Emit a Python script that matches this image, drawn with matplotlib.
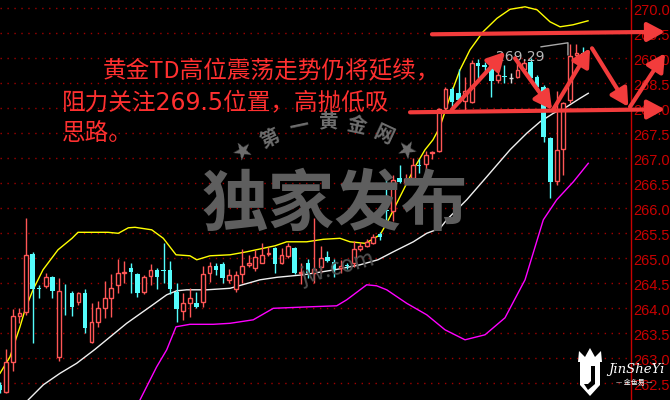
import numpy as np
import matplotlib
matplotlib.use("Agg")
import matplotlib.pyplot as plt
from matplotlib import transforms
from matplotlib.patches import Polygon

plt.rcParams['font.family'] = ['Noto Sans CJK SC', 'DejaVu Sans']

# candle data, index 0..89
opens = [262.47, 262.33, 262.93, 263.85, 263.92, 265.08, 264.40, 264.45, 264.62, 263.02,
         264.33, 264.30, 264.12, 264.30, 263.32, 263.72, 264.01, 264.21, 264.47, 264.71,
         264.80, 264.69, 264.32, 264.65, 264.77, 264.76, 264.77, 264.33, 263.95, 264.10,
         264.11, 264.12, 264.70, 264.85, 264.88, 264.57, 264.38, 264.68, 264.87, 264.81,
         264.91, 265.08, 265.20, 264.90, 265.05, 265.20, 264.70, 264.91, 264.71, 264.83,
         265.02, 264.93, 264.81, 264.86, 264.90, 265.18, 265.25, 265.31, 265.49, 265.96,
         265.95, 266.60, 266.52, 266.60, 266.86, 266.88, 267.11, 267.15, 268.00, 268.38,
         268.30, 268.15, 268.13, 268.90, 268.87, 268.80, 268.57, 268.65, 268.60, 268.63,
         268.78, 268.93, 268.63, 268.43, 267.40, 266.55, 267.18, 268.17, 269.07, 269.10]
highs = [262.52, 263.18, 263.98, 264.00, 265.81, 265.12, 264.47, 264.70, 264.64, 264.60,
         264.48, 264.35, 264.32, 264.38, 264.10, 264.15, 264.55, 264.68, 264.98, 264.95,
         264.91, 264.71, 264.67, 264.89, 264.81, 265.30, 264.95, 264.50, 264.31, 264.40,
         264.33, 264.85, 264.92, 264.90, 264.92, 264.78, 264.75, 265.18, 265.07, 265.17,
         265.30, 265.23, 265.22, 265.20, 265.31, 265.22, 264.90, 264.98, 265.80, 265.25,
         265.15, 264.98, 264.96, 264.90, 265.35, 265.33, 265.38, 265.49, 265.53, 266.70,
         266.67, 266.87, 266.68, 267.00, 266.98, 267.15, 267.15, 268.00, 268.43, 268.43,
         268.78, 268.63, 268.97, 268.98, 268.93, 268.91, 268.85, 268.87, 268.71, 268.90,
         268.98, 269.00, 268.67, 268.46, 267.42, 268.35, 268.13, 269.29, 269.28, 269.23]
lows = [262.30, 262.30, 262.75, 263.70, 263.87, 263.31, 264.21, 264.40, 264.21, 262.95,
        263.87, 263.85, 264.07, 263.51, 263.30, 263.63, 263.81, 263.82, 264.31, 264.50,
        264.31, 264.23, 264.29, 264.47, 264.38, 264.51, 264.29, 263.72, 263.77, 263.82,
        264.00, 264.02, 264.53, 264.67, 264.51, 264.50, 264.33, 264.50, 264.83, 264.75,
        264.90, 265.05, 264.71, 264.88, 265.00, 264.68, 264.48, 264.61, 264.51, 264.71,
        264.93, 264.63, 264.71, 264.78, 264.83, 265.15, 265.22, 265.28, 265.37, 265.73,
        265.75, 266.50, 266.48, 266.49, 266.71, 266.67, 266.98, 267.12, 267.95, 268.00,
        268.10, 267.95, 268.11, 268.60, 268.73, 268.23, 268.50, 268.51, 268.50, 268.60,
        268.70, 268.58, 268.35, 267.33, 266.21, 266.47, 266.67, 268.10, 268.90, 269.03]
closes = [262.36, 262.92, 263.85, 263.90, 265.07, 264.38, 264.38, 264.62, 264.35, 264.35,
          264.32, 264.02, 264.30, 263.61, 263.72, 264.00, 264.20, 264.40, 264.70, 264.73,
          264.73, 264.31, 264.62, 264.77, 264.63, 264.74, 264.38, 263.98, 264.10, 264.20,
          264.03, 264.68, 264.85, 264.77, 264.60, 264.67, 264.67, 264.85, 264.91, 265.03,
          265.07, 265.11, 264.88, 265.07, 265.25, 264.70, 264.73, 264.71, 264.78, 265.00,
          264.95, 264.78, 264.85, 264.85, 265.18, 265.25, 265.32, 265.43, 265.43, 265.94,
          266.57, 266.53, 266.59, 266.87, 266.84, 267.07, 267.13, 267.98, 268.38, 268.13,
          268.17, 268.35, 268.90, 268.85, 268.82, 268.55, 268.67, 268.62, 268.60, 268.77,
          268.90, 268.60, 268.42, 267.43, 266.53, 267.17, 268.11, 269.05, 269.10, 269.05]

# bollinger bands, sampled along the chart (candle index, price)
upper_x = [0.03, 1.56, 3.08, 3.85, 5.07, 6.59, 8.88, 11.02, 11.93, 16.5, 18.08, 19.61, 20.63,
           23.18, 24.95, 26.89, 29.02, 30.05, 32.07, 35.13, 37.68, 41.99, 43.78, 46.83, 49.37,
           51.91, 53.44, 55.73, 56.75, 58.02, 59.04, 60.3, 61.83, 63.36, 64.88, 66.1, 67.17,
           68.7, 70.23, 71.75, 73.74, 75.87, 77.86, 80.15, 81.98, 83.96, 85.49, 87.47, 89.76]
upper_y = [262.70, 263.03, 263.63, 263.97, 264.37, 264.77, 265.17, 265.40, 265.52, 265.52,
           265.50, 265.61, 265.62, 265.57, 265.40, 265.07, 265.05, 264.97, 265.05, 265.07,
           265.13, 265.25, 265.33, 265.33, 265.38, 265.40, 265.33, 265.30, 265.37, 265.47,
           265.70, 266.03, 266.43, 266.83, 267.17, 267.37, 267.63, 268.23, 268.77, 269.17,
           269.53, 269.80, 269.98, 270.03, 269.97, 269.73, 269.63, 269.67, 269.75]
mid_x = [4.35, 6.64, 9.19, 11.73, 14.53, 19.36, 22.92, 25.47, 26.99, 28.52, 31.57, 35.13,
         39.7, 42.3, 46.3, 51.1, 54.97, 57.7, 60.05, 63.1, 65.15, 67.18, 68.2, 71.25, 74.3,
         77.86, 80.4, 82.44, 84.47, 86.51, 88.54, 89.8]
mid_y = [262.17, 262.47, 262.70, 262.90, 263.18, 263.70, 264.03, 264.27, 264.35, 264.37,
         264.37, 264.40, 264.57, 264.62, 264.67, 264.77, 264.87, 264.97, 265.13, 265.33,
         265.50, 265.60, 265.77, 266.17, 266.63, 267.17, 267.50, 267.73, 267.90, 268.03,
         268.20, 268.30]
lower_x = [21.4, 23.94, 25.47, 26.89, 29.02, 32.58, 35.13, 38.68, 41.74, 47.34, 51.41, 52.94,
           55.99, 57.51, 59.04, 62.09, 65.15, 67.94, 70.99, 74.04, 77.09, 80.15, 82.94, 84.98,
           87.52, 89.8]
lower_y = [262.17, 262.83, 263.17, 263.63, 263.68, 263.68, 263.70, 263.77, 264.00, 264.03,
           264.05, 264.17, 264.47, 264.45, 264.37, 264.10, 263.87, 263.57, 263.37, 263.47,
           263.81, 264.57, 265.77, 266.17, 266.53, 266.90]

price_ticks = [270.0, 269.5, 269.0, 268.5, 268.0, 267.5, 267.0, 266.5, 266.0,
               265.5, 265.0, 264.5, 264.0, 263.5, 263.0, 262.5]

RED = '#ff5656'
CYAN = '#54fcfc'
ARROW = '#f23c3c'
TXT_RED = '#ff3030'
AXIS_RED = '#c80000'

fig = plt.figure(figsize=(6.7, 4.0), dpi=100, facecolor='black')
ax = fig.add_axes([0, 0, 631 / 670, 1])
ax.set_facecolor('black')
ax.set_xlim(0.03, 96.32)
ax.set_ylim(262.166, 270.166)
ax.set_xticks([])
ax.set_yticks([])
for s in ['left', 'top', 'bottom']:
    ax.spines[s].set_visible(False)
ax.spines['right'].set_color(AXIS_RED)
ax.spines['right'].set_linewidth(1)

# dotted grid + right price labels
ax.hlines(price_ticks, 0, 1, transform=ax.get_yaxis_transform(), colors='#a00000',
          linestyles=(0, (1, 4)), lw=1, zorder=0)
lab_tr = transforms.offset_copy(ax.get_yaxis_transform(), fig=fig, x=2, y=-3, units='dots')
for p in price_ticks:
    ax.text(1.0, p, '%.2f' % p, transform=lab_tr, color=AXIS_RED, fontsize=10.5,
            family='Liberation Sans', va='center', ha='left', clip_on=False)

# watermark
fig.text(335 / 670, 1 - 205 / 400, '独家发布', color='#5e5e5e', fontsize=48,
         fontweight='bold', ha='center', va='center', zorder=0)
arc = [('★', 243, 152, 30), ('第', 270, 139, 25), ('一', 299, 127, 12), ('黄', 328, 122, 0),
       ('金', 357, 126, -12), ('网', 384, 135, -25), ('★', 405, 151, -30)]
for ch, px, py, rot in arc:
    fig.text(px / 670, 1 - py / 400, ch, color='#6e6e6e', fontsize=14, fontweight='bold',
             ha='center', va='center', rotation=rot, zorder=0)
fig.text(338 / 670, 1 - 268 / 400, 'jw.com', color='#505050', fontsize=16,
         ha='center', va='center', rotation=15, zorder=0)

# candles
x = np.arange(len(opens))
o, h, l, c = map(np.array, (opens, highs, lows, closes))
up = c > o
down = c < o
flat = c == o
cols = np.where(up, RED, np.where(down, CYAN, '#d8d8d8'))
ax.vlines(x, l, h, colors=cols, lw=1, zorder=3)
bottom = np.minimum(o, c)
height = np.abs(c - o)
ax.bar(x[down], height[down], bottom=bottom[down], width=0.7, color=CYAN, lw=0, zorder=4)
ax.bar(x[up], height[up], bottom=bottom[up], width=0.58, facecolor='black',
       edgecolor=RED, lw=1, zorder=4)
ax.hlines(o[flat], x[flat] - 0.35, x[flat] + 0.35, colors='#d8d8d8', lw=1, zorder=4)

# bollinger lines
ax.plot(upper_x, upper_y, color='#ffff00', lw=1, zorder=2)
ax.plot(mid_x, mid_y, color='#f0f0f0', lw=1, zorder=2)
ax.plot(lower_x, lower_y, color='#ff00ff', lw=1, zorder=2)

# high marker
ax.plot([82.6, 86.7, 86.7], [269.23, 269.31, 269.07], color='#a8a8a8', lw=1, zorder=5)
ax.text(79.4, 269.03, '269.29', color='#b8b8b8', fontsize=10, family='DejaVu Sans',
        ha='center', va='center', zorder=5)

# analyst arrows
def arrow(x0, y0, x1, y1):
    ax.annotate('', xy=(x1, y1), xytext=(x0, y0), annotation_clip=False, zorder=6,
                arrowprops=dict(arrowstyle='-|>,head_length=0.7,head_width=0.38',
                                color=ARROW, lw=3, mutation_scale=15,
                                shrinkA=0, shrinkB=0))

arrow(65.95, 269.48, 101.5, 269.53)
arrow(62.6, 267.92, 101.5, 267.98)
arrow(68.96, 267.97, 77.1, 269.13)
arrow(78.62, 269.0, 84.27, 267.97)
arrow(84.42, 267.97, 90.07, 269.2)
arrow(90.37, 269.2, 95.91, 268.03)
arrow(96.17, 268.03, 101.51, 269.1)

# commentary
fig.text(103 / 670, 1 - 72 / 400, '黄金TD高位震荡走势仍将延续，', color=TXT_RED,
         fontsize=17, ha='left', va='center', zorder=7)
fig.text(62 / 670, 1 - 103 / 400, '阻力关注269.5位置，高抛低吸', color=TXT_RED,
         family=['DejaVu Sans', 'Noto Sans CJK SC'],
         fontsize=17, ha='left', va='center', zorder=7)
fig.text(62 / 670, 1 - 133 / 400, '思路。', color=TXT_RED,
         fontsize=17, ha='left', va='center', zorder=7)

# logo bottom right
shield = [(580, 362), (600, 362), (600, 385), (590, 396), (580, 385)]
crown = [(578, 362), (579, 351), (585, 357), (590, 348), (595, 357), (601, 351), (602, 362)]
for pts in (shield, crown):
    fig.patches.append(Polygon([(px / 670, 1 - py / 400) for px, py in pts], closed=True,
                               transform=fig.transFigure, facecolor='white',
                               edgecolor='none', zorder=8))
fig.patches.append(Polygon([(p[0] / 670, 1 - p[1] / 400) for p in
                            [(591, 366), (595, 366), (595, 384), (588, 390), (584, 384), (588, 384), (591, 381)]],
                           closed=True, transform=fig.transFigure, facecolor='black',
                           edgecolor='none', zorder=9))
fig.text(608 / 670, 1 - 370 / 400, 'JinSheYi', color='white', fontsize=9.5,
         family='DejaVu Serif', style='italic', ha='left', va='center', zorder=8)
fig.text(634 / 670, 1 - 383 / 400, '— 金色易 —', color='white', fontsize=5,
         ha='center', va='center', zorder=8)

fig.savefig('out.png', dpi=100, facecolor='black')
